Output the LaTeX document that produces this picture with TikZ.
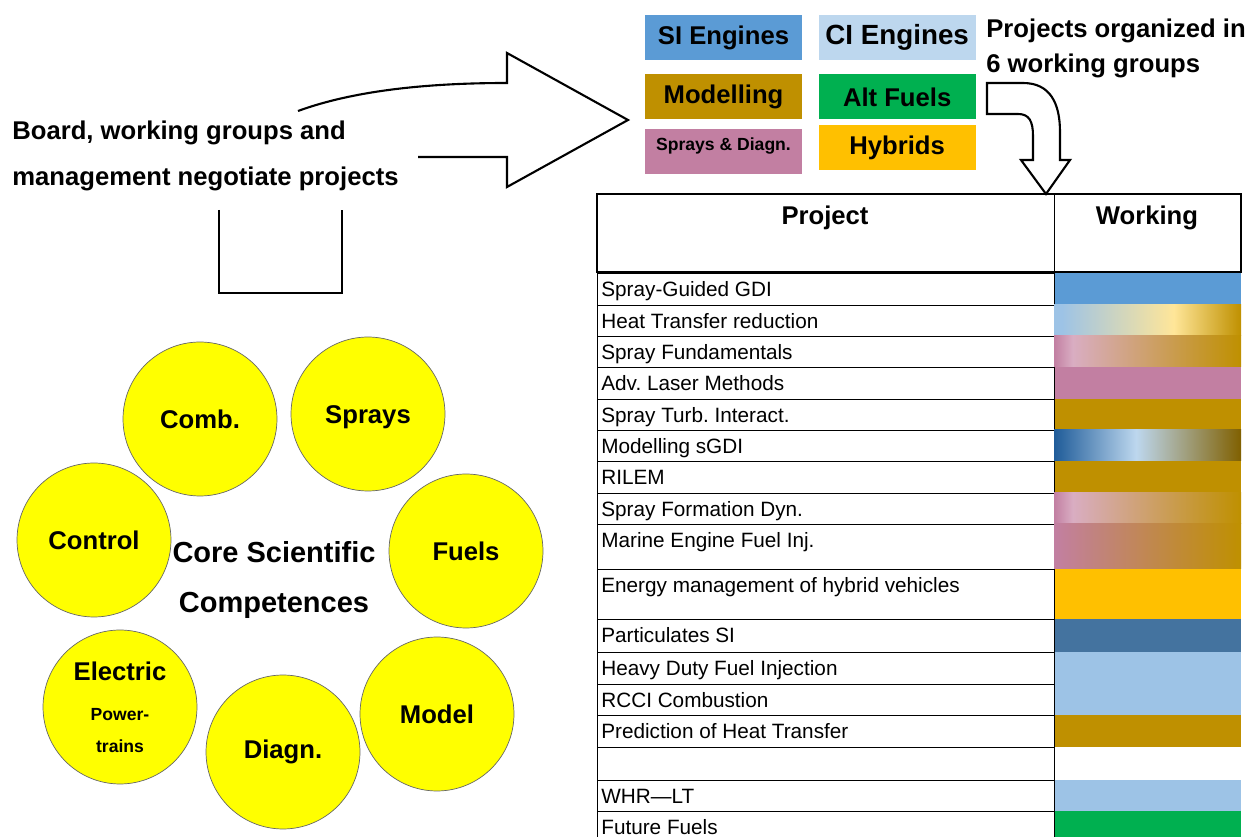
\documentclass[tikz,border=0pt]{standalone}
\usepackage{fontspec}
\setmainfont{Liberation Sans}
\usetikzlibrary{positioning}
\frenchspacing

\definecolor{siblue}{HTML}{5B9BD5}
\definecolor{ciblue}{HTML}{BDD7EE}
\definecolor{lightblue}{HTML}{9DC3E6}
\definecolor{modgold}{HTML}{BF9000}
\definecolor{altgreen}{HTML}{00B050}
\definecolor{spraypink}{HTML}{C27FA2}
\definecolor{hybyellow}{HTML}{FFC000}
\definecolor{steelblue}{HTML}{44739F}
\definecolor{paleyellow}{HTML}{FFE699}
\definecolor{palepink}{HTML}{D9ADC2}
\definecolor{darkblue}{HTML}{1F5C99}
\definecolor{darkgold}{HTML}{806000}
\definecolor{ballyellow}{HTML}{FFFF00}

% mixed working groups
\pgfdeclarehorizontalshading{heatshade}{100bp}{color(0bp)=(lightblue); color(27bp)=(lightblue); color(57bp)=(paleyellow); color(75bp)=(modgold); color(100bp)=(modgold)}
\pgfdeclarehorizontalshading{sprayshade}{100bp}{color(0bp)=(spraypink); color(25bp)=(spraypink); color(30bp)=(palepink); color(75bp)=(modgold); color(100bp)=(modgold)}
\pgfdeclarehorizontalshading{sgdishade}{100bp}{color(0bp)=(darkblue); color(25bp)=(darkblue); color(47bp)=(ciblue); color(75bp)=(darkgold); color(100bp)=(darkgold)}
\pgfdeclarehorizontalshading{marineshade}{100bp}{color(0bp)=(spraypink); color(25bp)=(spraypink); color(75bp)=(modgold); color(100bp)=(modgold)}

\begin{document}
\begin{tikzpicture}[x=0.02cm, y=-0.02cm,
  grp/.style={minimum width=3.14cm, minimum height=0.9cm, inner sep=0pt, font=\fontsize{14.6}{17}\selectfont\bfseries},
  ball/.style={circle, fill=ballyellow, draw=black!60, line width=0.4pt, minimum size=3.08cm, inner sep=0pt, font=\fontsize{14.6}{17}\selectfont\bfseries, align=center},
  hollow/.style={line width=1.2pt, line join=miter},
  row/.style={anchor=base west, inner sep=0pt, font=\fontsize{11.8}{14}\selectfont}]
\useasboundingbox (0,0) rectangle (1252,837);

% negotiation
\node[anchor=west, align=left, inner sep=0pt, font=\fontsize{14.6}{26}\selectfont\bfseries] (board) at (12,156) {Board, working groups and\\management negotiate projects};
\draw[line width=1.2pt] (219,210) -- (219,293) -- (342,293) -- (342,210);
\draw[hollow] (298,111) .. controls (350,92) and (420,83) .. (507,83) -- (507,53) -- (628,120) -- (507,187) -- (507,157) -- (418,157);

% working groups
\node[grp, fill=siblue] (si) at (723.5,37.5) {SI Engines};
\node[grp, fill=ciblue, right=0.32cm of si, font=\fontsize{15.8}{19}\selectfont\bfseries] (ci) {CI Engines};
\node[grp, fill=modgold] (mod) at (723.5,97) {Modelling};
\node[grp, fill=altgreen, right=0.32cm of mod] (alt) {Alt Fuels};
\node[grp, fill=spraypink, label={[font=\fontsize{10}{12}\selectfont\bfseries, anchor=center, yshift=-0.34cm]north:Sprays \& Diagn.}] (spr) at (723.5,152) {};
\node[grp, fill=hybyellow, right=0.32cm of spr, yshift=0.08cm] (hyb) {Hybrids};
\node[anchor=west, align=left, inner sep=0pt, font=\fontsize{14.6}{20}\selectfont\bfseries] (orgtxt) at (986,48) {Projects organized in\\6 working groups};
\draw[hollow, fill=white] (987,83) -- (1023,83) .. controls (1050,83) and (1060,103) .. (1060,132) -- (1060,160) -- (1070,160) -- (1046,194) -- (1021,160) -- (1033,160) -- (1033,136) .. controls (1033,121) and (1029,114) .. (1018,114) -- (987,114) -- cycle;

% project table
\foreach \ya/\yb/\txt/\col [count=\i] in {
  273/305/Spray-Guided GDI/siblue,
  305/336/Heat Transfer reduction/none,
  336/367/Spray Fundamentals/none,
  367/399/Adv. Laser Methods/spraypink,
  399/430/Spray Turb. Interact./modgold,
  430/461/Modelling sGDI/none,
  461/493/RILEM/modgold,
  493/524/Spray Formation Dyn./none,
  524/569/Marine Engine Fuel Inj./none,
  569/619/Energy management of hybrid vehicles/hybyellow,
  619/652/Particulates SI/steelblue,
  652/684/Heavy Duty Fuel Injection/lightblue,
  684/715/RCCI Combustion/lightblue,
  715/747/Prediction of Heat Transfer/modgold,
  747/780//white,
  780/811/WHR—LT/lightblue,
  811/850/Future Fuels/altgreen}{
  \path[fill=\col] (1054,\ya) rectangle (1241,\yb);
  \draw[line width=0.5pt] (597,\ya) rectangle (1054,\yb);
  \node[row] (p\i) at (601,\ya+24) {\txt};
}
\shade[shading=heatshade] (1054,305) rectangle (1241,336);
\shade[shading=sprayshade] (1054,336) rectangle (1241,367);
\shade[shading=sgdishade] (1054,430) rectangle (1241,461);
\shade[shading=sprayshade] (1054,493) rectangle (1241,524);
\shade[shading=marineshade] (1054,524) rectangle (1241,569);
\draw[line width=1.2pt] (597,194) rectangle (1241,272);
\draw (1054,194) -- (1054,272);
\node[font=\fontsize{14.6}{17}\selectfont\bfseries] (hproj) at (825,218) {Project};
\node[font=\fontsize{14.6}{17}\selectfont\bfseries] (hwork) at (1147,218) {Working};

% competences
\node[ball] (comb) at (200,419) {Comb.};
\node[ball] (sprays) at (368,414) {\raisebox{-0.2cm}[0pt][0pt]{Sprays}};
\node[ball] (control) at (94,540) {Control};
\node[ball] (fuels) at (466,551) {Fuels};
\node[ball] (elec) at (120,707) {Electric\\[6pt]{\fontsize{10}{12}\selectfont Power-}\\[1pt]{\fontsize{10}{12}\selectfont trains}};
\node[ball] (diagn) at (283,752) {Diagn.};
\node[ball] (model) at (437,714) {Model};
\node[align=center, font=\fontsize{16.5}{28}\selectfont\bfseries] (core) at (274,580) {Core Scientific\\Competences};
\end{tikzpicture}
\end{document}
